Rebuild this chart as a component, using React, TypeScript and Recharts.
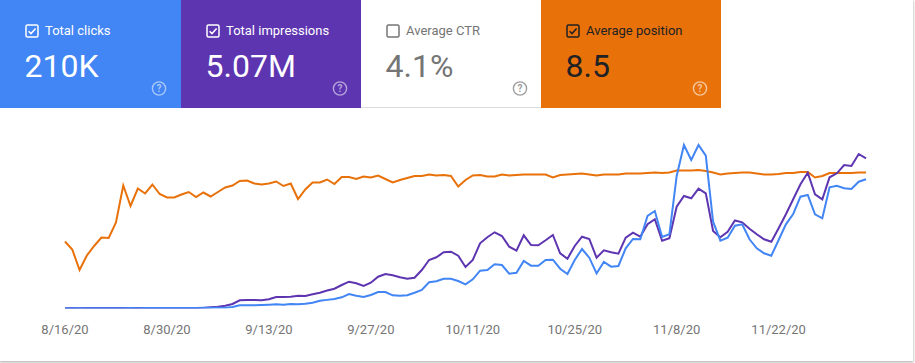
import React from "react";
import { LineChart, Line, XAxis, YAxis } from "recharts";

const dates = [
  "8/16/20","8/17/20","8/18/20","8/19/20","8/20/20","8/21/20","8/22/20","8/23/20","8/24/20","8/25/20",
  "8/26/20","8/27/20","8/28/20","8/29/20","8/30/20","8/31/20",
  "9/1/20","9/2/20","9/3/20","9/4/20","9/5/20","9/6/20","9/7/20","9/8/20","9/9/20","9/10/20",
  "9/11/20","9/12/20","9/13/20","9/14/20","9/15/20","9/16/20","9/17/20","9/18/20","9/19/20","9/20/20",
  "9/21/20","9/22/20","9/23/20","9/24/20","9/25/20","9/26/20","9/27/20","9/28/20","9/29/20","9/30/20",
  "10/1/20","10/2/20","10/3/20","10/4/20","10/5/20","10/6/20","10/7/20","10/8/20","10/9/20","10/10/20",
  "10/11/20","10/12/20","10/13/20","10/14/20","10/15/20","10/16/20","10/17/20","10/18/20","10/19/20","10/20/20",
  "10/21/20","10/22/20","10/23/20","10/24/20","10/25/20","10/26/20","10/27/20","10/28/20","10/29/20","10/30/20",
  "10/31/20",
  "11/1/20","11/2/20","11/3/20","11/4/20","11/5/20","11/6/20","11/7/20","11/8/20","11/9/20","11/10/20",
  "11/11/20","11/12/20","11/13/20","11/14/20","11/15/20","11/16/20","11/17/20","11/18/20","11/19/20","11/20/20",
  "11/21/20","11/22/20","11/23/20","11/24/20","11/25/20","11/26/20","11/27/20","11/28/20","11/29/20","11/30/20",
  "12/1/20","12/2/20","12/3/20","12/4/20",
];

const clicks = [
  10, 12, 8, 10, 12, 10, 14, 12, 14, 16,
  14, 18, 16, 20, 18, 22, 20, 24, 22, 26,
  28, 30, 32, 60, 128, 128, 128, 140, 152, 168,
  152, 180, 168, 192, 232, 312, 345, 380, 448, 580,
  512, 460, 540, 660, 660, 528, 512, 528, 632, 740,
  1048, 1088, 1192, 1192, 1100, 968, 1168, 1512, 1540, 1768,
  1740, 1392, 1432, 1900, 1712, 1712, 1940, 1952, 1592, 1380,
  1940, 2380, 2032, 1400, 1860, 1672, 1700, 2408, 2780, 2768,
  3700, 3900, 2860, 2968, 5300, 6540, 5940, 6540, 6112, 3472,
  2712, 2832, 3312, 3368, 2768, 2408, 2208, 2112, 2740, 3368,
  3780, 4472, 4540, 3768, 3608, 4848, 4912, 4808, 4780, 5072,
  5168,
];

const impressions = [
  300, 320, 280, 320, 340, 320, 360, 340, 380, 400,
  380, 400, 420, 400, 440, 420, 460, 440, 480, 500,
  960, 1440, 2240, 3600, 6560, 6800, 6800, 6560, 7360, 9200,
  9200, 9440, 10240, 10000, 11360, 12640, 14400, 15840, 18800, 21440,
  20160, 18000, 20640, 25440, 27600, 26560, 24960, 23840, 24640, 30800,
  38800, 40960, 44960, 45440, 42240, 33200, 38800, 52160, 56960, 60960,
  58000, 49440, 46240, 58560, 50800, 50560, 54560, 58800, 44160, 39840,
  50000, 57440, 55600, 40640, 46560, 44960, 43840, 56640, 60640, 57440,
  67360, 71360, 54240, 56160, 81440, 90000, 88160, 95840, 92160, 62000,
  56960, 61440, 70400, 68960, 63840, 59360, 55360, 53440, 64160, 75360,
  87360, 99360, 108640, 91360, 87360, 104960, 108160, 114800, 114000, 123600,
  120160,
];

const position = [
  20.6, 22.2, 26.3, 23.4, 21.5, 19.8, 19.9, 16.8, 9.4, 13.5,
  10.0, 11.0, 9.2, 11.1, 11.8, 11.8, 11.2, 10.7, 11.7, 10.8,
  11.6, 10.7, 9.8, 9.4, 8.5, 8.4, 9.0, 9.2, 9.0, 8.6,
  9.5, 9.0, 12.1, 10.2, 8.8, 8.8, 8.2, 9.1, 7.7, 7.7,
  8.1, 7.6, 7.8, 7.4, 8.1, 8.8, 8.3, 7.9, 7.5, 7.5,
  7.2, 7.4, 7.3, 7.5, 9.6, 8.3, 7.4, 7.3, 7.6, 7.6,
  7.2, 7.4, 7.3, 7.2, 7.2, 7.2, 7.2, 7.8, 7.3, 7.2,
  7.1, 7.0, 7.2, 7.4, 7.2, 7.2, 7.2, 7.0, 7.0, 7.0,
  6.9, 6.8, 6.9, 6.8, 6.4, 6.4, 6.4, 6.3, 6.5, 6.8,
  7.2, 7.0, 6.9, 6.8, 6.8, 7.0, 7.2, 7.2, 7.1, 6.9,
  6.9, 6.7, 6.7, 7.8, 7.5, 6.9, 6.9, 6.9, 6.9, 6.8,
  6.8,
];

const cardLabels = ["Total clicks", "Total impressions", "Average CTR", "Average position"];
const cardValues = ["210K", "5.07M", "4.1%", "8.5"];
const cardChecked = [true, true, false, true];

const cardStyles = [
  { x: 0, w: 181, bg: "#4285F4", fg: "#ffffff", box: "#ffffff", icon: "rgba(255,255,255,0.55)", num: "#ffffff" },
  { x: 181, w: 180, bg: "#5E35B1", fg: "#ffffff", box: "#ffffff", icon: "rgba(255,255,255,0.55)", num: "#ffffff" },
  { x: 361, w: 180, bg: "#ffffff", fg: "#757575", box: "#757575", icon: "#9e9e9e", num: "#757575" },
  { x: 541, w: 180, bg: "#E8710A", fg: "#202124", box: "#202124", icon: "rgba(255,255,255,0.6)", num: "#202124" },
];

const rows = dates.map((d, i) => ({
  date: d,
  clicks: clicks[i],
  impressions: impressions[i],
  position: position[i],
}));

const FONT = "Roboto, 'Noto Sans', Arial, sans-serif";

function Cards() {
  return (
    <svg width={721} height={108} style={{ position: "absolute", left: 0, top: 0, display: "block" }}>
      {cardLabels.map((label, i) => {
        const s = cardStyles[i];
        const x = s.x;
        return (
          <g key={label}>
            <rect x={x} y={0} width={s.w} height={108} fill={s.bg} />
            <rect x={x + 26} y={25} width={12} height={12} rx={1.5} fill="none" stroke={s.box} strokeWidth={1.5} />
            {cardChecked[i] && (
              <path d={`M ${x + 28.6} ${31.2} L ${x + 31} ${33.6} L ${x + 35.6} ${28.6}`} fill="none" stroke={s.box} strokeWidth={1.5} />
            )}
            <text x={x + 45} y={34.8} fill={s.fg} fontSize={13} fontFamily={FONT}>{label}</text>
            <text x={x + 24.5} y={76.5} fill={s.num} fontSize={32} fontFamily={FONT}>{cardValues[i]}</text>
            <circle cx={x + 159} cy={88.5} r={6.6} fill="none" stroke={s.icon} strokeWidth={1.4} />
            <text x={x + 159} y={92.3} fill={s.icon} fontSize={10} fontWeight={700} textAnchor="middle" fontFamily={FONT}>?</text>
          </g>
        );
      })}
      <line x1={361} y1={107.5} x2={541} y2={107.5} stroke="#dadce0" strokeWidth={1} />
    </svg>
  );
}

export default function App() {
  return (
    <div
      style={{
        position: "absolute",
        left: 0,
        top: 0,
        width: 913,
        height: 361,
        background: "#ffffff",
        boxShadow: "0 1px 2px rgba(60,64,67,0.3), 0 1px 3px 1px rgba(60,64,67,0.15)",
        fontFamily: FONT,
      }}
    >
      <Cards />
      <div style={{ position: "absolute", left: 0, top: 108 }}>
        <LineChart
          width={913}
          height={253}
          data={rows}
          margin={{ top: 30.5, right: 47, bottom: 22.5, left: 65 }}
        >
          <XAxis
            dataKey="date"
            interval={13}
            tickLine={false}
            axisLine={false}
            height={30}
            tickMargin={10}
            tick={{ fill: "#757575", fontSize: 13, fontFamily: FONT }}
          />
          <YAxis yAxisId="clicks" hide domain={[0, 6800]} allowDataOverflow />
          <YAxis yAxisId="impressions" hide domain={[0, 136000]} allowDataOverflow />
          <YAxis yAxisId="position" hide domain={[0, 34]} reversed allowDataOverflow />
          <Line yAxisId="position" dataKey="position" stroke="#E8710A" strokeWidth={2} dot={false} activeDot={false} isAnimationActive={false} />
          <Line yAxisId="impressions" dataKey="impressions" stroke="#5E35B1" strokeWidth={2} dot={false} activeDot={false} isAnimationActive={false} />
          <Line yAxisId="clicks" dataKey="clicks" stroke="#4285F4" strokeWidth={2} dot={false} activeDot={false} isAnimationActive={false} />
        </LineChart>
      </div>
    </div>
  );
}
